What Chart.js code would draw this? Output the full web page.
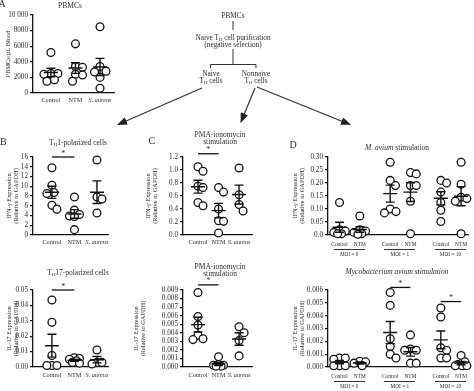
<!DOCTYPE html>
<html>
<head>
<meta charset="utf-8">
<script src="https://cdn.jsdelivr.net/npm/chart.js@4.4.1/dist/chart.umd.min.js"></script>
<style>
  html, body { margin: 0; padding: 0; background: #fff; }
  body { position: relative; width: 474px; height: 391px; overflow: hidden;
         font-family: "Liberation Serif", "DejaVu Serif", serif; color: #2a2a2a; }
  canvas, svg { position: absolute; left: 0; top: 0; }
  .letter { position: absolute; font-size: 10px; line-height: 10px; }
  .ttl, .fc { position: absolute; transform: translate(-50%, -50%); text-align: center; white-space: nowrap; }
  .ttl { font-size: 7.5px; line-height: 7px; }
  .fc { font-size: 7.3px; line-height: 7px; }
  sub { font-size: 0.65em; line-height: 0; vertical-align: -0.25em; }
  .moi { position: absolute; border-top: 1px solid #333; text-align: center;
         font-size: 5.3px; line-height: 6px; padding-top: 1px; white-space: nowrap; }
</style>
</head>
<body>
<svg width="474" height="391">
  <defs>
    <marker id="head" viewBox="0 0 10 8" refX="9" refY="4" markerWidth="10" markerHeight="8"
            markerUnits="userSpaceOnUse" orient="auto">
      <path d="M0,0 L10,4 L0,8 Z" fill="#222"/>
    </marker>
  </defs>
  <g stroke="#333" stroke-width="1" fill="none">
    <path d="M233,21 V30 M233,49 V64.5 M210.5,68 V64.5 H256 V68"/>
    <path d="M202,88 L118,124.5" stroke-width="1.2" marker-end="url(#head)"/>
    <path d="M255,88 L241,122" stroke-width="1.2" marker-end="url(#head)"/>
    <path d="M257,87 L350,124.5" stroke-width="1.2" marker-end="url(#head)"/>
  </g>
</svg>

<canvas id="cA" width="474" height="391"></canvas>
<canvas id="cB1" width="474" height="391"></canvas>
<canvas id="cB2" width="474" height="391"></canvas>
<canvas id="cC1" width="474" height="391"></canvas>
<canvas id="cC2" width="474" height="391"></canvas>
<canvas id="cD1" width="474" height="391"></canvas>
<canvas id="cD2" width="474" height="391"></canvas>

<div class="letter" style="left:-1.5px;top:-1.5px">A</div>
<div class="ttl" style="left:70px;top:5px">PBMCs</div>

<div class="fc" style="left:233px;top:15px">PBMCs</div>
<div class="fc" style="left:233px;top:40.5px">Naive T<sub>H</sub> cell purification<br>(negative selection)</div>
<div class="fc" style="left:211px;top:77px">Naive<br>T<sub>H</sub> cells</div>
<div class="fc" style="left:256px;top:77px">Nonnaive<br>T<sub>H</sub> cells</div>

<div class="letter" style="left:0px;top:136.5px">B</div>
<div class="ttl" style="left:78px;top:142px">T<sub>H</sub>1-polarized cells</div>
<div class="ttl" style="left:78px;top:272px">T<sub>H</sub>17-polarized cells</div>

<div class="letter" style="left:148.5px;top:135.5px">C</div>
<div class="ttl" style="left:220px;top:137.5px">PMA-ionomycin<br>stimulation</div>
<div class="ttl" style="left:220px;top:269.5px">PMA-ionomycin<br>stimulation</div>

<div class="letter" style="left:289.5px;top:139.5px">D</div>
<div class="ttl" style="left:397px;top:147px"><i>M. avium</i> stimulation</div>
<div class="ttl" style="left:397px;top:271px"><i>Mycobacterium avium stimulation</i></div>

<script>
// ---- categories ----
const groupsABC = ["Control", "NTM", "S. aureus"]
const groupsD = ["Control", "NTM", "Control", "NTM", "Control", "NTM"]
const moiLabels = ["MOI = 0", "MOI = 1", "MOI = 10"]

// ---- A: PBMCs / uL blood ----
const pbmcControl = [5200, 2500, 2500, 2400, 1700, 1500]
const pbmcNTM = [6300, 3400, 3300, 2400, 2300, 1500]
const pbmcAureus = [8500, 3400, 2800, 2700, 2000, 600]

// ---- B: naive TH cells, polarized ----
const th1Control = [13.8, 10.2, 8.7, 8.5, 6.1, 5.3]
const th1NTM = [7.8, 5.1, 4.2, 3.9, 3.8, 1.1]
const th1Aureus = [15.4, 7.8, 7.4, 4.5]

const th17Control = [0.0435, 0.029, 0.0075, 0.001, 0.001, 0.001]
const th17NTM = [0.006, 0.0055, 0.005, 0.004, 0.003, 0.0025]
const th17Aureus = [0.011, 0.003, 0.003, 0.002]

// ---- C: PMA-ionomycin ----
const pmaIfnControl = [1.05, 0.98, 0.75, 0.73, 0.50, 0.45]
const pmaIfnNTM = [0.73, 0.66, 0.40, 0.22, 0.21, 0.03]
const pmaIfnAureus = [1.03, 0.62, 0.47, 0.37]

const pmaIl17Control = [0.0087, 0.0059, 0.0049, 0.0037, 0.0033, 0.0032]
const pmaIl17NTM = [0.0012, 0.0003, 0.0002, 0.0002, 0.0001, 0.0001]
const pmaIl17Aureus = [0.0047, 0.0040, 0.0031, 0.0013]

// ---- D: M. avium stimulation ----
const avIfnControl0 = [0.125, 0.02, 0.015, 0.01, 0.005, 0.005]
const avIfnNTM0 = [0.073, 0.02, 0.015, 0.01, 0.005, 0.003]
const avIfnControl1 = [0.28, 0.21, 0.19, 0.10, 0.09, 0.085]
const avIfnNTM1 = [0.24, 0.235, 0.19, 0.19, 0.13, 0.005]
const avIfnControl10 = [0.21, 0.20, 0.165, 0.125, 0.095, 0.052]
const avIfnNTM10 = [0.28, 0.195, 0.145, 0.14, 0.13, 0.005]

const avIl17Control0 = [0.0007, 0.0007, 0.0006, 0.0001, 0.0001, 0.0001]
const avIl17NTM0 = [0.00045, 0.0004, 0.0003, 0.0001]
const avIl17Control1 = [0.0058, 0.0048, 0.0022, 0.0016, 0.0010, 0.0007]
const avIl17NTM1 = [0.0025, 0.0014, 0.0013, 0.0013, 0.0003, 0.0003]
const avIl17Control10 = [0.0046, 0.0039, 0.0015, 0.0013, 0.0007, 0.0007]
const avIl17NTM10 = [0.0009, 0.0004, 0.0002, 0.0001, 0.0001, 0.0001]

// ---- y ticks ----
const ticksA = [0, 2000, 4000, 6000, 8000, 10000]
const tickLabelsA = ["0", "2000", "4000", "6000", "8000", "10 000"]
const ticksB1 = [0, 2, 4, 6, 8, 10, 12, 14, 16]
const tickLabelsB1 = ["0", "2", "4", "6", "8", "10", "12", "14", "16"]
const ticksB2 = [0, 0.01, 0.02, 0.03, 0.04, 0.05]
const tickLabelsB2 = ["0.00", "0.01", "0.02", "0.03", "0.04", "0.05"]
const ticksC1 = [0, 0.2, 0.4, 0.6, 0.8, 1.0, 1.2]
const tickLabelsC1 = ["0.0", "0.2", "0.4", "0.6", "0.8", "1.0", "1.2"]
const ticksC2 = [0, 0.001, 0.002, 0.003, 0.004, 0.005, 0.006, 0.007, 0.008, 0.009]
const tickLabelsC2 = ["0.000", "0.001", "0.002", "0.003", "0.004", "0.005", "0.006", "0.007", "0.008", "0.009"]
const ticksD1 = [0, 0.05, 0.10, 0.15, 0.20, 0.25, 0.30]
const tickLabelsD1 = ["0.0", "0.05", "0.10", "0.15", "0.20", "0.25", "0.30"]
const ticksD2 = [0, 0.001, 0.002, 0.003, 0.004, 0.005, 0.006]
const tickLabelsD2 = ["0.000", "0.001", "0.002", "0.003", "0.004", "0.005", "0.006"]

// significance bars: [group a, group b, height in data units]
const sigB1 = [[0, 1, 16]]
const sigB2 = [[0, 1, 0.05]]
const sigC1 = [[0, 1, 1.25]]
const sigC2 = [[0, 1, 0.0096]]
const sigD2 = [[2, 3, 0.0062], [4, 5, 0.0051]]

const W = 474, H = 391
const FONT = "'Liberation Serif', 'DejaVu Serif', serif"
const INK = "#2a2a2a"
Chart.defaults.font.family = FONT
Chart.defaults.color = INK

const posABC = i => i
const posD = i => Math.floor(i / 2) * 2.5 + (i % 2)

// plot-area geometry for each panel (pixels on the 474x391 page)
const boxA  = { L: 33,  R: 114, T: 15,  B: 93,  yw: 28,   xmin: -0.73, xmax: 2.57, xpad: 3.7, xfont: 6.2, pos: posABC, spread: 7 }
const boxB1 = { L: 33,  R: 108, T: 157, B: 235, yw: 27.5, xmin: -0.84, xmax: 2.49, xpad: 3.7, xfont: 6.2, pos: posABC, spread: 5 }
const boxB2 = { L: 33,  R: 108, T: 290, B: 367, yw: 27.5, xmin: -0.84, xmax: 2.49, xpad: 4.2, xfont: 6.2, pos: posABC, spread: 5 }
const boxC1 = { L: 183, R: 252, T: 157, B: 235, yw: 38.5, xmin: -0.73, xmax: 2.63, xpad: 3.7, xfont: 6.2, pos: posABC, spread: 5 }
const boxC2 = { L: 183, R: 252, T: 290, B: 367, yw: 50.5, xmin: -0.73, xmax: 2.63, xpad: 4.2, xfont: 6.2, pos: posABC, spread: 5 }
const boxD1 = { L: 328, R: 474, T: 157, B: 235, yw: 36.5, xmin: -0.57, xmax: 6.38, xpad: 6.5, xfont: 5.4, pos: posD,   spread: 6 }
const boxD2 = { L: 328, R: 474, T: 290, B: 367, yw: 36.5, xmin: -0.57, xmax: 6.38, xpad: 6.5, xfont: 5.4, pos: posD,   spread: 6 }

// simple beeswarm: horizontal pixel offsets so circles do not sit on top of each other
function swarm(values, pxPerY, gap, maxOff) {
  const order = values.map((v, i) => i).sort((a, b) => values[b] - values[a])
  const cands = [0]
  for (let s = 0.5; s <= maxOff; s += 0.5) cands.push(s, -s)
  const placed = [], off = []
  order.forEach(i => {
    const y = values[i] * pxPerY
    let best = 0, bestScore = -1
    for (const c of cands) {
      let d = gap
      placed.forEach(p => { d = Math.min(d, Math.hypot(p.x - c, p.y - y)) })
      if (d > bestScore + 1e-6) { bestScore = d; best = c }
      if (d >= gap) break
    }
    placed.push({ x: best, y })
    off[i] = best
  })
  return off
}

// mean line + SEM whiskers for each group
const meanSem = {
  id: "meanSem",
  afterDatasetsDraw(chart) {
    const { ctx, scales: { x, y } } = chart
    ctx.save()
    ctx.strokeStyle = "#111"
    ctx.lineWidth = 1.4
    chart.data.datasets.forEach(ds => {
      const v = ds.values, n = v.length
      const m = v.reduce((a, b) => a + b, 0) / n
      const sd = Math.sqrt(v.reduce((a, b) => a + (b - m) ** 2, 0) / (n - 1))
      const se = sd / Math.sqrt(n)
      const px = x.getPixelForValue(ds.center)
      const pm = y.getPixelForValue(m)
      const hi = y.getPixelForValue(m + se)
      const lo = y.getPixelForValue(m - se)
      ctx.beginPath()
      ctx.moveTo(px - 7, pm); ctx.lineTo(px + 7, pm)
      ctx.moveTo(px, hi); ctx.lineTo(px, lo)
      ctx.moveTo(px - 4.5, hi); ctx.lineTo(px + 4.5, hi)
      ctx.moveTo(px - 4.5, lo); ctx.lineTo(px + 4.5, lo)
      ctx.stroke()
    })
    ctx.restore()
  }
}

const sigBars = {
  id: "sig",
  afterDatasetsDraw(chart, args, opts) {
    if (!opts.bars || !opts.bars.length) return
    const { ctx, scales: { x, y } } = chart
    const ds = chart.data.datasets
    ctx.save()
    ctx.strokeStyle = "#111"
    ctx.lineWidth = 1.3
    ctx.fillStyle = INK
    ctx.font = "8px " + FONT
    ctx.textAlign = "center"
    ctx.textBaseline = "alphabetic"
    opts.bars.forEach(([a, b, v]) => {
      const x1 = x.getPixelForValue(ds[a].center)
      const x2 = x.getPixelForValue(ds[b].center)
      const py = y.getPixelForValue(v)
      ctx.beginPath()
      ctx.moveTo(x1, py); ctx.lineTo(x2, py)
      ctx.stroke()
      ctx.fillText("*", (x1 + x2) / 2, py - 1.5)
    })
    ctx.restore()
  }
}

function panel(id, box, labels, series, ticks, tickLabels, title, sig) {
  const yMin = ticks[0], yMax = ticks[ticks.length - 1]
  const pxX = (box.R - box.L) / (box.xmax - box.xmin)
  const pxY = (box.B - box.T) / (yMax - yMin)

  const datasets = series.map((values, i) => {
    const center = box.pos(i)
    const off = swarm(values, pxY, 7.5, box.spread)
    return {
      values, center,
      data: values.map((v, j) => ({ x: center + off[j] / pxX, y: v })),
      pointRadius: 3.9,
      pointHoverRadius: 3.9,
      pointBorderWidth: 1.3,
      pointBorderColor: "#111",
      pointBackgroundColor: "#fff",
      showLine: false,
      clip: false
    }
  })

  return new Chart(document.getElementById(id), {
    type: "scatter",
    data: { datasets },
    options: {
      responsive: false,
      animation: false,
      events: [],
      layout: {
        padding: { left: box.L - box.yw, right: W - box.R, top: box.T, bottom: H - box.B - 14 }
      },
      plugins: {
        legend: { display: false },
        tooltip: { enabled: false },
        sig: { bars: sig || [] }
      },
      scales: {
        x: {
          type: "linear",
          min: box.xmin,
          max: box.xmax,
          afterBuildTicks: s => { s.ticks = labels.map((l, i) => ({ value: box.pos(i) })) },
          afterFit: s => { s.height = 14 },
          grid: { display: false, drawTicks: false },
          border: { color: "#111", width: 1.3 },
          ticks: {
            autoSkip: false,
            maxRotation: 0,
            minRotation: 0,
            padding: box.xpad,
            color: INK,
            callback: (v, i) => labels[i],
            font: c => ({
              family: FONT,
              size: box.xfont,
              style: labels[c.index] === "S. aureus" ? "italic" : "normal"
            })
          }
        },
        y: {
          min: yMin,
          max: yMax,
          afterBuildTicks: s => { s.ticks = ticks.map(v => ({ value: v })) },
          afterFit: s => { s.width = box.yw },
          grid: { drawOnChartArea: false, drawTicks: true, tickLength: 3, color: "#111", lineWidth: 1.2 },
          border: { color: "#111", width: 1.3 },
          ticks: {
            autoSkip: false,
            padding: 2,
            color: INK,
            font: { family: FONT, size: 7.2 },
            callback: (v, i) => tickLabels[i]
          },
          title: {
            display: true,
            text: title,
            color: INK,
            padding: 0,
            font: { family: FONT, size: 6.4, lineHeight: 1.1 }
          }
        }
      }
    },
    plugins: [meanSem, sigBars]
  })
}

const ifnTitle = ["IFN-γ Expression", "(Relative to GAPDH)"]
const il17Title = ["IL-17 Expression", "(Relative to GAPDH)"]

panel("cA", boxA, groupsABC, [pbmcControl, pbmcNTM, pbmcAureus], ticksA, tickLabelsA, "PBMCs/µL Blood")
panel("cB1", boxB1, groupsABC, [th1Control, th1NTM, th1Aureus], ticksB1, tickLabelsB1, ifnTitle, sigB1)
panel("cB2", boxB2, groupsABC, [th17Control, th17NTM, th17Aureus], ticksB2, tickLabelsB2, il17Title, sigB2)
panel("cC1", boxC1, groupsABC, [pmaIfnControl, pmaIfnNTM, pmaIfnAureus], ticksC1, tickLabelsC1, ifnTitle, sigC1)
panel("cC2", boxC2, groupsABC, [pmaIl17Control, pmaIl17NTM, pmaIl17Aureus], ticksC2, tickLabelsC2, il17Title, sigC2)
const chartD1 = panel("cD1", boxD1, groupsD,
  [avIfnControl0, avIfnNTM0, avIfnControl1, avIfnNTM1, avIfnControl10, avIfnNTM10],
  ticksD1, tickLabelsD1, ifnTitle)
const chartD2 = panel("cD2", boxD2, groupsD,
  [avIl17Control0, avIl17NTM0, avIl17Control1, avIl17NTM1, avIl17Control10, avIl17NTM10],
  ticksD2, tickLabelsD2, il17Title, sigD2)

// MOI group labels with the rule above them, placed from the x scale
function moiRow(chart, top) {
  const sx = chart.scales.x
  moiLabels.forEach((text, k) => {
    const x1 = sx.getPixelForValue(posD(2 * k))
    const x2 = sx.getPixelForValue(posD(2 * k + 1))
    const d = document.createElement("div")
    d.className = "moi"
    d.textContent = text
    d.style.left = (x1 - 6) + "px"
    d.style.width = (x2 - x1 + 11) + "px"
    d.style.top = top + "px"
    document.body.appendChild(d)
  })
}
moiRow(chartD1, 249)
moiRow(chartD2, 381)
</script>
</body>
</html>
